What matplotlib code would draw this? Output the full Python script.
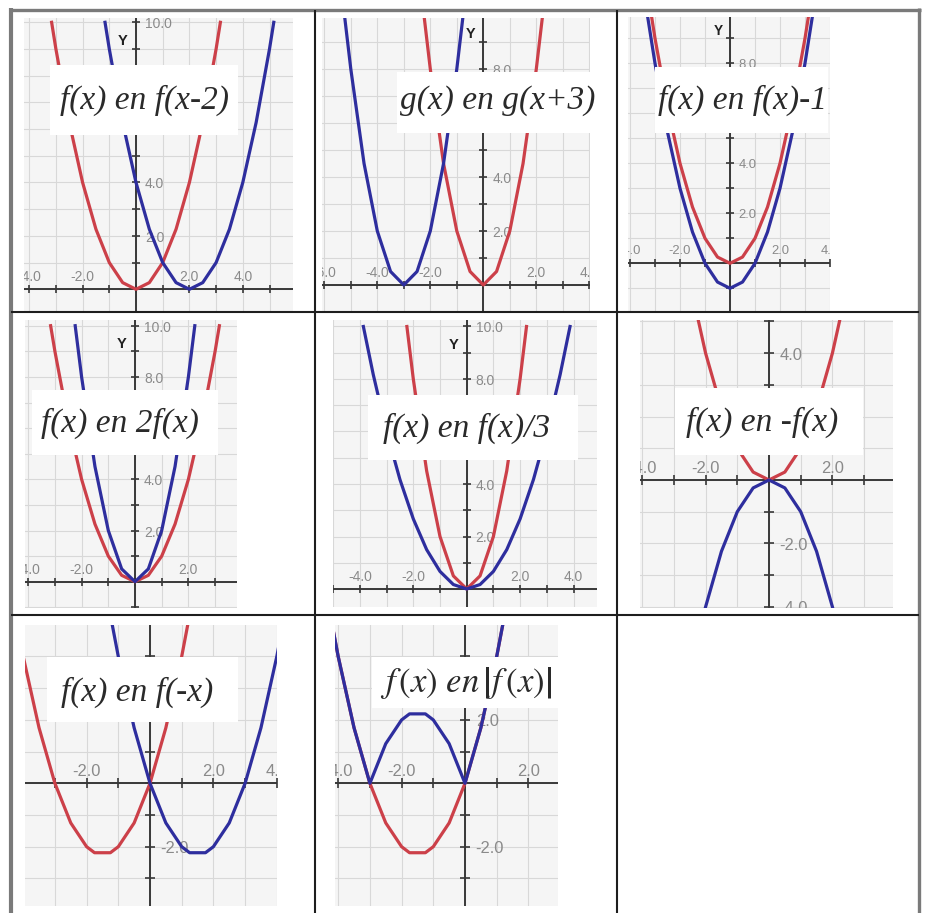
import numpy as np
import matplotlib.pyplot as plt
from matplotlib.patches import Rectangle
from matplotlib.lines import Line2D
from matplotlib import transforms

W, H = 925, 913

# --- waarden afgelezen uit de grafieken (x, y) ---
# 1: f(x) en f(x-2)
x_f1 = [-3.16, -3, -2.5, -2, -1.5, -1, -0.5, 0, 0.5, 1, 1.5, 2, 2.5, 3, 3.16]
y_f1 = [10, 9, 6.25, 4, 2.25, 1, 0.25, 0, 0.25, 1, 2.25, 4, 6.25, 9, 10]
x_g1 = [-1.16, -1, -0.5, 0, 0.5, 1, 1.5, 2, 2.5, 3, 3.5, 4, 4.5, 5, 5.16]
y_g1 = [10, 9, 6.25, 4, 2.25, 1, 0.25, 0, 0.25, 1, 2.25, 4, 6.25, 9, 10]
# 2: g(x) en g(x+3)
x_f2 = [-2.24, -2, -1.5, -1, -0.5, 0, 0.5, 1, 1.5, 2, 2.24]
y_f2 = [10, 8, 4.5, 2, 0.5, 0, 0.5, 2, 4.5, 8, 10]
x_g2 = [-5.24, -5, -4.5, -4, -3.5, -3, -2.5, -2, -1.5, -1, -0.76]
y_g2 = [10, 8, 4.5, 2, 0.5, 0, 0.5, 2, 4.5, 8, 10]
# 3: f(x) en f(x)-1
x_f3 = [-3.3, -3, -2.5, -2, -1.5, -1, -0.5, 0, 0.5, 1, 1.5, 2, 2.5, 3, 3.3]
y_f3 = [10.9, 9, 6.25, 4, 2.25, 1, 0.25, 0, 0.25, 1, 2.25, 4, 6.25, 9, 10.9]
y_g3 = [9.9, 8, 5.25, 3, 1.25, 0, -0.75, -1, -0.75, 0, 1.25, 3, 5.25, 8, 9.9]
# 4: f(x) en 2f(x)
x_f4 = [-3.16, -3, -2.5, -2, -1.5, -1, -0.5, 0, 0.5, 1, 1.5, 2, 2.5, 3, 3.16]
y_f4 = [10, 9, 6.25, 4, 2.25, 1, 0.25, 0, 0.25, 1, 2.25, 4, 6.25, 9, 10]
x_g4 = [-2.24, -2, -1.5, -1, -0.5, 0, 0.5, 1, 1.5, 2, 2.24]
y_g4 = [10, 8, 4.5, 2, 0.5, 0, 0.5, 2, 4.5, 8, 10]
# 5: f(x) en f(x)/3
x_f5 = [-2.24, -2, -1.5, -1, -0.5, 0, 0.5, 1, 1.5, 2, 2.24]
y_f5 = [10, 8, 4.5, 2, 0.5, 0, 0.5, 2, 4.5, 8, 10]
x_g5 = [-3.87, -3.5, -3, -2.5, -2, -1.5, -1, -0.5, 0, 0.5, 1, 1.5, 2, 2.5, 3, 3.5, 3.87]
y_g5 = [10, 8.17, 6, 4.17, 2.67, 1.5, 0.67, 0.17, 0, 0.17, 0.67, 1.5, 2.67, 4.17, 6, 8.17, 10]
# 6: f(x) en -f(x)
x_f6 = [-2.5, -2, -1.5, -1, -0.5, 0, 0.5, 1, 1.5, 2, 2.5]
y_f6 = [6.25, 4, 2.25, 1, 0.25, 0, 0.25, 1, 2.25, 4, 6.25]
x_g6 = [-2, -1.5, -1, -0.5, 0, 0.5, 1, 1.5, 2]
y_g6 = [-4, -2.25, -1, -0.25, 0, -0.25, -1, -2.25, -4]
# 7: f(x) en f(-x)
x_f7 = [-4.25, -4, -3.5, -3, -2.5, -2, -1.75, -1.25, -1, -0.5, 0, 0.5, 1, 1.25]
y_f7 = [5.31, 4, 1.75, 0, -1.25, -2, -2.19, -2.19, -2, -1.25, 0, 1.75, 4, 5.31]
x_g7 = [-1.25, -1, -0.5, 0, 0.5, 1, 1.25, 1.75, 2, 2.5, 3, 3.5, 4, 4.25]
y_g7 = [5.31, 4, 1.75, 0, -1.25, -2, -2.19, -2.19, -2, -1.25, 0, 1.75, 4, 5.31]
# 8: f(x) en |f(x)|
y_g8 = [5.31, 4, 1.75, 0, 1.25, 2, 2.19, 2.19, 2, 1.25, 0, 1.75, 4, 5.31]

titels = ['f(x) en f(x-2)', 'g(x) en g(x+3)', 'f(x) en f(x)-1',
          'f(x) en 2f(x)', 'f(x) en f(x)/3', 'f(x) en -f(x)',
          'f(x) en f(-x)', r'$f\,(x)\ en\,\left|f\,(x)\right|$']

ROOD = '#cc4049'
BLAUW = '#2e2e9e'

# witte kaders (links, rechts, boven, onder) en midden van de titel, in pixels
kaders = [(50, 238, 65, 135), (397, 593, 72, 133), (655, 828, 67, 133),
          (32, 218, 390, 455), (368, 578, 395, 460), (675, 863, 388, 455),
          (47, 238, 657, 722), (372, 558, 657, 708)]
midden = [(144, 100), (498, 101), (743, 100), (120, 423), (467, 428),
          (762, 422), (137, 692), (466, 683)]

fig = plt.figure(figsize=(W / 100, H / 100), dpi=100)
fig.patch.set_facecolor('white')


def fx(x):
    return x / W


def fy(y):
    return 1 - y / H


def verborgen(px, py, kader):
    l, r, t, b = kader
    return l <= px <= r and t <= py <= b


def grafiek(plek, oorsprong, eenheid, rood, blauw, kader):
    l, r, t, b = plek
    x0, y0 = oorsprong
    ux, uy = eenheid
    k = ux / 26.7
    ax = fig.add_axes([fx(l), fy(b), (r - l) / W, (b - t) / H])
    xmin, xmax = (l - x0) / ux, (r - x0) / ux
    ymin, ymax = (y0 - b) / uy, (y0 - t) / uy
    ax.set_xlim(xmin, xmax)
    ax.set_ylim(ymin, ymax)
    ax.set_facecolor('#f5f5f5')
    for s in ax.spines.values():
        s.set_visible(False)
    xt = np.arange(np.ceil(xmin), np.floor(xmax) + 1)
    yt = np.arange(np.ceil(ymin), np.floor(ymax) + 1)
    ax.set_xticks(xt)
    ax.set_yticks(yt)
    ax.tick_params(length=0, labelbottom=False, labelleft=False)
    ax.grid(True, color='#d8d8d8', lw=0.8)
    ax.set_axisbelow(True)

    as_kleur = '#383838'
    ax.axhline(0, color=as_kleur, lw=1.4, zorder=2)
    ax.axvline(0, color=as_kleur, lw=1.4, zorder=2)
    ax.plot(xt, np.zeros_like(xt), ls='none', marker='|', ms=6 * k, mew=1.2,
            color=as_kleur, zorder=2)
    ax.plot(np.zeros_like(yt), yt, ls='none', marker='_', ms=6 * k, mew=1.2,
            color=as_kleur, zorder=2)

    # getallen bij de assen (niet die helemaal onder het witte kader vallen)
    fs = 10 * k
    dy = 12
    boven = transforms.offset_copy(ax.transData, fig=fig, x=0, y=dy, units='dots')
    rechts = transforms.offset_copy(ax.transData, fig=fig, x=9 * k, y=-2, units='dots')
    links = transforms.offset_copy(ax.transData, fig=fig, x=-13 * k, y=0, units='dots')
    for v in xt:
        if v % 2 == 0 and v != 0 and not verborgen(x0 + v * ux, y0 - dy, kader):
            ax.text(v, 0, f'{v:.1f}', transform=boven, ha='center', va='center',
                    fontsize=fs, color='#8a8a8a', family='Liberation Sans',
                    clip_on=True, zorder=1.5)
    for v in yt:
        if v % 2 == 0 and v != 0 and not verborgen(x0 + 9 * k + 8, y0 - v * uy + 2, kader):
            ax.text(0, v, f'{v:.1f}', transform=rechts, ha='left', va='center',
                    fontsize=fs, color='#8a8a8a', family='Liberation Sans',
                    clip_on=True, zorder=1.5)
    ax.text(0, 9.3, 'Y', transform=links, ha='center', va='center', fontsize=fs * 1.05,
            fontweight='bold', color='#202020', family='Liberation Sans', clip_on=True)

    ax.plot(rood[0], rood[1], color=ROOD, lw=2.3, zorder=3, solid_joinstyle='round')
    ax.plot(blauw[0], blauw[1], color=BLAUW, lw=2.3, zorder=4, solid_joinstyle='round')
    return ax


# plek (links, rechts, boven, onder), oorsprong en eenheid in pixels
grafiek((24, 293, 18, 311), (136, 289.3), (26.7, 26.7), (x_f1, y_f1), (x_g1, y_g1), kaders[0])
grafiek((322, 590, 18, 311), (483.3, 285), (26.5, 27), (x_f2, y_f2), (x_g2, y_g2), kaders[1])
grafiek((628, 830, 17, 311), (730, 263.3), (25, 25), (x_f3, y_f3), (x_f3, y_g3), kaders[2])
grafiek((25, 237, 320, 608), (135, 581.7), (26.7, 25.6), (x_f4, y_f4), (x_g4, y_g4), kaders[3])
grafiek((333, 597, 320, 607), (466.7, 589), (26.7, 26.25), (x_f5, y_f5), (x_g5, y_g5), kaders[4])
grafiek((640, 893, 320, 608), (769, 480), (31.7, 31.7), (x_f6, y_f6), (x_g6, y_g6), kaders[5])
grafiek((25, 277, 625, 906), (150, 783.3), (31.7, 31.7), (x_f7, y_f7), (x_g7, y_g7), kaders[6])
grafiek((335, 558, 625, 906), (465, 783.3), (31.7, 31.7), (x_f7, y_f7), (x_f7, y_g8), kaders[7])

# witte kaders met de titels
for i, (l, r, t, b) in enumerate(kaders):
    fig.add_artist(Rectangle((fx(l), fy(b)), (r - l) / W, (b - t) / H,
                             transform=fig.transFigure, facecolor='white',
                             edgecolor='none', zorder=5))
    cx, cy = midden[i]
    if i == 7:
        fig.text(fx(cx), fy(cy), titels[i], ha='center', va='center', fontsize=25,
                 math_fontfamily='stix', color='#2a2a2a', zorder=6)
    else:
        fig.text(fx(cx), fy(cy), titels[i], ha='center', va='center', fontsize=24,
                 family='Liberation Serif', style='italic', color='#2a2a2a', zorder=6)


# tabelranden
def lijn(x1, y1, x2, y2, kleur, dikte):
    fig.add_artist(Line2D([fx(x1), fx(x2)], [fy(y1), fy(y2)], transform=fig.transFigure,
                          color=kleur, lw=dikte, zorder=7, solid_capstyle='butt'))


lijn(10.5, 8, 10.5, 913, '#7a7a7a', 3)
lijn(9, 10, 921, 10, '#7a7a7a', 2.4)
lijn(919, 8, 919, 913, '#7a7a7a', 2.4)
lijn(314.5, 10, 314.5, 913, '#1e1e1e', 1.5)
lijn(616.5, 10, 616.5, 913, '#1e1e1e', 1.5)
lijn(10.5, 312.5, 919, 312.5, '#1e1e1e', 1.5)
lijn(10.5, 614.5, 919, 614.5, '#1e1e1e', 1.5)

fig.savefig('out.png', dpi=100, facecolor='white')
